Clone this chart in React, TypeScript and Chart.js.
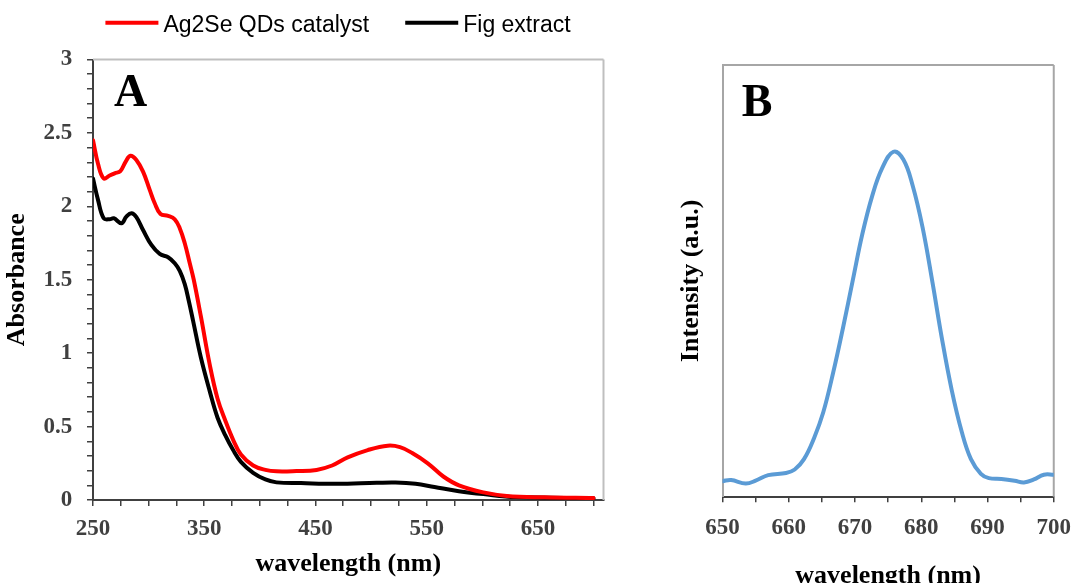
import React, { useEffect, useRef } from "react";
import { Chart, registerables } from "chart.js";

Chart.register(...registerables);

// ---------- Data (panel A: UV-Vis absorbance) ----------
const seriesLabels = ["Ag2Se QDs catalyst", "Fig extract"];
const seriesColors = ["#ff0000", "#000000"];

const redWavelengths = [250, 254.5, 259.6, 265, 269.5, 274.6, 279.4, 283.6, 289, 295, 301, 305.5, 310.7, 317.5, 323.5, 328, 332.5, 337, 340.6, 347, 355, 362, 369, 376, 383, 394, 405, 415, 433, 451, 465, 479, 497, 515, 526, 537, 551, 565, 579, 601, 622, 656, 700];
const redAbsorbance = [2.45, 2.29, 2.19, 2.21, 2.225, 2.24, 2.305, 2.345, 2.316, 2.236, 2.112, 2.021, 1.948, 1.935, 1.912, 1.851, 1.749, 1.612, 1.5, 1.25, 0.92, 0.69, 0.54, 0.41, 0.31, 0.235, 0.205, 0.195, 0.197, 0.205, 0.235, 0.29, 0.34, 0.37, 0.36, 0.32, 0.25, 0.16, 0.1, 0.052, 0.028, 0.018, 0.013];

const blackWavelengths = [250, 254.5, 259.6, 265, 268.6, 275.6, 280, 284.6, 289, 295, 302.5, 310, 317.5, 323.5, 328, 332.5, 336, 340, 347, 355, 362, 369, 376, 383, 394, 405, 415, 437, 469, 505, 522, 540, 557, 579, 601, 630, 700];
const blackAbsorbance = [2.19, 2.044, 1.919, 1.912, 1.919, 1.885, 1.93, 1.953, 1.926, 1.839, 1.737, 1.676, 1.653, 1.612, 1.56, 1.47, 1.36, 1.22, 0.97, 0.74, 0.56, 0.44, 0.34, 0.26, 0.185, 0.14, 0.12, 0.115, 0.11, 0.117, 0.119, 0.11, 0.088, 0.06, 0.04, 0.02, 0.012];

const xTickLabelsA = [250, 350, 450, 550, 650];
const yTickLabelsA = [0, 0.5, 1, 1.5, 2, 2.5, 3];

// ---------- Data (panel B: photoluminescence) ----------
const plWavelengths = [650, 651.3, 653.5, 655, 656.9, 659.6, 660.9, 662.3, 663.8, 665.2, 666.7, 668.2, 669.7, 671.1, 672.6, 674.1, 675.8, 677.3, 678.7, 680.2, 681.7, 683.1, 684.6, 686.1, 687.5, 689, 690.2, 692.1, 694.1, 695.5, 697, 698.5, 700];
const plIntensity = [3.6, 3.85, 3.05, 3.7, 5.0, 5.5, 6.3, 8.7, 13.5, 19.5, 28.7, 39.2, 50.4, 60.8, 69.7, 76.1, 79.9, 78.1, 72.1, 62.4, 49.6, 36.8, 24.7, 15.1, 8.7, 5.3, 4.3, 4.1, 3.7, 3.3, 4.0, 5.1, 5.1];
const plColor = "#5b9bd5";
const xTickLabelsB = [650, 660, 670, 680, 690, 700];

// ---------- Styles ----------
const SERIF = "'Liberation Serif', 'Times New Roman', serif";
const SANS = "'Liberation Sans', Arial, sans-serif";
const AXIS_DARK = "#404040";

const toXY = (xs: number[], ys: number[]) => xs.map((x, i) => ({ x, y: ys[i] }));
const hasTick = (list: number[], v: number) => list.some((t) => Math.abs(t - v) < 1e-6);

const framePlugin = (color: string, sides: string[]) => ({
  id: "frame",
  beforeDatasetsDraw(chart: any) {
    const { ctx, chartArea: a } = chart;
    ctx.save();
    ctx.strokeStyle = color;
    ctx.lineWidth = 2;
    ctx.beginPath();
    if (sides.includes("top")) { ctx.moveTo(a.left, a.top); ctx.lineTo(a.right, a.top); }
    if (sides.includes("right")) { ctx.moveTo(a.right, a.top); ctx.lineTo(a.right, a.bottom); }
    if (sides.includes("left")) { ctx.moveTo(a.left, a.top); ctx.lineTo(a.left, a.bottom); }
    ctx.stroke();
    ctx.restore();
  },
});

const letterPlugin = (letter: string, dx: number, dy: number) => ({
  id: "panelLetter",
  afterDraw(chart: any) {
    const { ctx, chartArea: a } = chart;
    ctx.save();
    ctx.fillStyle = "#000";
    ctx.font = `bold 46px ${SERIF}`;
    ctx.textBaseline = "alphabetic";
    ctx.textAlign = "left";
    ctx.fillText(letter, a.left + dx, a.top + dy);
    ctx.restore();
  },
});

const legendPlugin = (centerX: number, lineY: number, baselineY: number) => ({
  id: "topLegend",
  afterDraw(chart: any) {
    const { ctx } = chart;
    const lineLen = 53;
    const gap = 5;
    const itemGap = 36;
    ctx.save();
    ctx.font = `23px ${SANS}`;
    const items = chart.data.datasets.map((d: any) => ({
      label: d.label as string,
      color: d.borderColor as string,
      w: ctx.measureText(d.label).width,
    }));
    const total = items.reduce((s: number, it: any) => s + lineLen + gap + it.w, 0) + itemGap * (items.length - 1);
    let x = centerX - total / 2;
    items.forEach((it: any) => {
      ctx.strokeStyle = it.color;
      ctx.lineWidth = 4;
      ctx.beginPath();
      ctx.moveTo(x, lineY);
      ctx.lineTo(x + lineLen, lineY);
      ctx.stroke();
      ctx.fillStyle = "#000";
      ctx.textBaseline = "alphabetic";
      ctx.fillText(it.label, x + lineLen + gap, baselineY);
      x += lineLen + gap + it.w + itemGap;
    });
    ctx.restore();
  },
});

const lineDataset = (label: string, xs: number[], ys: number[], color: string) => ({
  label,
  data: toXY(xs, ys),
  borderColor: color,
  backgroundColor: color,
  borderWidth: 4,
  pointRadius: 0,
  tension: 0.4,
  borderCapStyle: "round",
  borderJoinStyle: "round",
  fill: false,
});

function ChartA() {
  const ref = useRef<HTMLCanvasElement | null>(null);
  useEffect(() => {
    if (!ref.current) return;
    const chart = new Chart(ref.current, {
      type: "line",
      data: {
        datasets: [
          lineDataset(seriesLabels[0], redWavelengths, redAbsorbance, seriesColors[0]),
          lineDataset(seriesLabels[1], blackWavelengths, blackAbsorbance, seriesColors[1]),
        ],
      },
      options: {
        animation: false,
        responsive: false,
        maintainAspectRatio: false,
        layout: { padding: { top: 59.5, right: 46.5, left: 0, bottom: 0 } },
        plugins: { legend: { display: false }, tooltip: { enabled: false } },
        scales: {
          x: {
            type: "linear",
            min: 250,
            max: 709,
            afterFit: (s: any) => { s.height = 83; },
            ticks: {
              stepSize: 25,
              autoSkip: false,
              includeBounds: false,
              maxRotation: 0,
              padding: 9,
              color: AXIS_DARK,
              font: { family: SERIF, size: 23, weight: "bold" },
              callback: (v: any) => (hasTick(xTickLabelsA, Number(v)) ? String(v) : ""),
            },
            grid: { drawOnChartArea: false, drawTicks: true, tickLength: 6, color: AXIS_DARK, lineWidth: 1.5 },
            border: { display: true, color: AXIS_DARK, width: 2 },
            title: {
              display: true,
              text: "wavelength (nm)",
              color: "#000",
              font: { family: SERIF, size: 26, weight: "bold" },
              padding: { top: 0, bottom: 3.4 },
            },
          },
          y: {
            type: "linear",
            min: 0,
            max: 3,
            afterFit: (s: any) => { s.width = 93; },
            ticks: {
              stepSize: 0.1,
              autoSkip: false,
              padding: 14.7,
              color: AXIS_DARK,
              font: { family: SERIF, size: 23, weight: "bold" },
              callback: (v: any) => {
                const r = Math.round(Number(v) * 10) / 10;
                return hasTick(yTickLabelsA, r) ? String(r) : "";
              },
            },
            grid: { drawOnChartArea: false, drawTicks: true, tickLength: 6, color: AXIS_DARK, lineWidth: 1.5 },
            border: { display: true, color: AXIS_DARK, width: 2 },
            title: {
              display: true,
              text: "Absorbance",
              color: "#000",
              font: { family: SERIF, size: 26, weight: "bold" },
              padding: { top: 2, bottom: 0 },
            },
          },
        },
      },
      plugins: [framePlugin("#bfbfbf", ["top", "right"]), letterPlugin("A", 21, 46.2), legendPlugin(338, 22.7, 31.7)],
    } as any);
    return () => chart.destroy();
  }, []);
  return <canvas ref={ref} width={650} height={583} style={{ position: "absolute", left: 0, top: 0, width: 650, height: 583 }} />;
}

function ChartB() {
  const ref = useRef<HTMLCanvasElement | null>(null);
  useEffect(() => {
    if (!ref.current) return;
    const chart = new Chart(ref.current, {
      type: "line",
      data: {
        datasets: [lineDataset("PL", plWavelengths, plIntensity, plColor)],
      },
      options: {
        animation: false,
        responsive: false,
        maintainAspectRatio: false,
        layout: { padding: { top: 65, right: 19.5, left: 0, bottom: 0 } },
        plugins: { legend: { display: false }, tooltip: { enabled: false } },
        scales: {
          x: {
            type: "linear",
            min: 650,
            max: 700,
            afterFit: (s: any) => { s.height = 86.3; },
            ticks: {
              stepSize: 5,
              autoSkip: false,
              includeBounds: false,
              maxRotation: 0,
              padding: 12,
              color: AXIS_DARK,
              font: { family: SERIF, size: 23, weight: "bold" },
              callback: (v: any) => (hasTick(xTickLabelsB, Number(v)) ? String(v) : ""),
            },
            grid: { drawOnChartArea: false, drawTicks: true, tickLength: 5.5, color: AXIS_DARK, lineWidth: 1.5 },
            border: { display: true, color: AXIS_DARK, width: 2 },
            title: {
              display: true,
              text: "wavelength (nm)",
              color: "#000",
              font: { family: SERIF, size: 26, weight: "bold" },
              padding: { top: 0, bottom: -8.6 },
            },
          },
          y: {
            type: "linear",
            min: 0,
            max: 100,
            afterFit: (s: any) => { s.width = 72.5; },
            ticks: { display: false },
            grid: { display: false, drawTicks: false },
            border: { display: true, color: "#a6a6a6", width: 2 },
            title: {
              display: true,
              text: "Intensity (a.u.)",
              color: "#000",
              font: { family: SERIF, size: 26, weight: "bold" },
              padding: { top: 26.1, bottom: 0 },
            },
          },
        },
      },
      plugins: [framePlugin("#a6a6a6", ["top", "right"]), letterPlugin("B", 19.2, 50.7)],
    } as any);
    return () => chart.destroy();
  }, []);
  return <canvas ref={ref} width={433} height={583} style={{ position: "absolute", left: 650, top: 0, width: 433, height: 583 }} />;
}

export default function App() {
  return (
    <div style={{ position: "fixed", left: 0, top: 0, width: 1083, height: 583, overflow: "hidden", background: "#fff" }}>
      <ChartA />
      <ChartB />
    </div>
  );
}
